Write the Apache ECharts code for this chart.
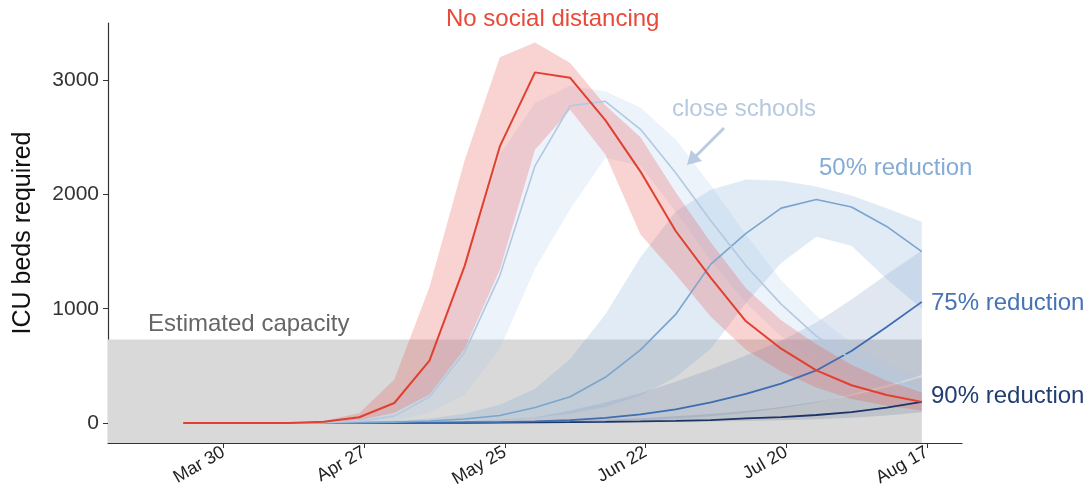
<!DOCTYPE html>
<html>
<head>
<meta charset="utf-8">
<script src="https://cdn.jsdelivr.net/npm/echarts@6/dist/echarts.min.js"></script>
<style>
html,body{margin:0;padding:0;background:#fff;}
#chart{width:1091px;height:496px;}
</style>
</head>
<body>
<div id="chart"></div>
<script>
// x values: days since Mar 2 (weekly model outputs)
const days = [20,27,34,41,48,55,62,69,76,83,90,97,104,111,118,125,132,139,146,153,160,167];
const tickDays = [28,56,84,112,140,168];
const tickLabels = ['Mar 30','Apr 27','May 25','Jun 22','Jul 20','Aug 17'];
const yTicks = [0,1000,2000,3000];
const capacity = 730;

const noDistLine  = [0,0,0,0,10,50,175,545,1375,2420,3068,3020,2650,2200,1680,1270,890,650,460,330,245,185];
const noDistLower = [0,0,0,0,5,25,90,250,650,1340,2390,2740,2350,1650,1300,930,640,450,310,210,150,110];
const noDistUpper = [0,0,0,0,20,85,380,1190,2300,3200,3330,3150,2780,2500,2020,1580,1180,900,690,510,370,270];

const schoolsLine  = [0,0,0,0,3,15,60,230,620,1290,2250,2776,2815,2570,2190,1770,1375,1040,760,560,400,275];
const schoolsLower = [0,0,0,0,1,5,20,90,250,650,1350,1870,2320,2250,1850,1420,1050,760,540,380,270,190];
const schoolsUpper = [0,0,0,0,6,40,160,520,1350,2350,2800,2950,2900,2760,2480,2080,1650,1250,940,700,520,390];

const red50Line  = [0,0,0,0,1,3,8,18,35,65,135,230,400,640,950,1390,1660,1880,1955,1890,1720,1500];
const red50Lower = [0,0,0,0,0,1,3,6,12,22,45,80,140,240,400,650,1050,1400,1630,1550,1260,1000];
const red50Upper = [0,0,0,0,3,8,20,40,80,160,300,560,950,1450,1850,2040,2130,2120,2070,1990,1880,1760];

const red75Line  = [0,0,0,0,0,1,2,3,5,8,14,25,45,75,120,180,255,345,460,630,840,1060];
const red75Lower = [0,0,0,0,0,0,0,1,2,3,5,9,15,25,40,60,90,130,180,250,330,420];
const red75Upper = [0,0,0,0,0,2,5,10,18,30,50,110,180,260,360,470,590,720,880,1080,1300,1510];

const red90Line  = [0,0,0,0,0,0,0,1,2,3,5,7,10,14,19,26,40,52,70,95,135,185];
const red90Lower = [0,0,0,0,0,0,0,0,1,1,2,3,5,7,10,13,18,24,32,45,65,95];
const red90Upper = [0,0,0,0,0,0,1,3,6,10,15,22,30,42,58,78,105,140,185,240,310,400];

function pairs(vals){ return days.map((d,i)=>[d, vals[i]]); }

function band(id, lower, upper, color, z){
  return {
    type:'custom', name:id, silent:true, z:z, clip:true,
    data: days.map((d,i)=>[d, lower[i], upper[i]]),
    encode:{x:0, y:[1,2]},
    renderItem:function(params, api){
      if(params.dataIndex !== 0) return null;
      const pts = [];
      for(let i=0;i<days.length;i++) pts.push(api.coord([days[i], upper[i]]));
      for(let i=days.length-1;i>=0;i--) pts.push(api.coord([days[i], lower[i]]));
      return {type:'polygon', shape:{points:pts}, style:{fill:color, stroke:null}};
    }
  };
}
function line(id, vals, color, width, z){
  return { type:'line', name:id, data:pairs(vals), symbol:'none',
    lineStyle:{color:color, width:width}, silent:true, z:z };
}

const chart = echarts.init(document.getElementById('chart'), null, {renderer:'canvas'});
const FONT = 'Liberation Sans, Arial, Helvetica, sans-serif';

const series = [
  { type:'line', name:'capacity', data:[], silent:true, z:1,
    markArea:{ silent:true, itemStyle:{color:'#d9d9d9'},
      data:[[{xAxis:5, yAxis:-175},{xAxis:days[days.length-1], yAxis:capacity}]] } },
  band('b90', red90Lower, red90Upper, 'rgba(30,55,105,0.14)', 2),
  band('b75', red75Lower, red75Upper, 'rgba(70,110,170,0.17)', 2),
  band('b50', red50Lower, red50Upper, 'rgba(120,165,210,0.22)', 2),
  band('bsc', schoolsLower, schoolsUpper, 'rgba(170,200,232,0.22)', 2),
  band('bnd', noDistLower, noDistUpper, 'rgba(232,90,90,0.27)', 3),
  line('90% reduction', red90Line, '#1d3466', 1.8, 5),
  line('75% reduction', red75Line, '#3e6db0', 1.8, 5),
  line('50% reduction', red50Line, '#79a5cf', 1.6, 5),
  line('close schools', schoolsLine, '#b3c9e1', 1.6, 5),
  line('No social distancing', noDistLine, '#e0402f', 2, 6)
];

chart.setOption({
  animation:false,
  backgroundColor:'#fff',
  grid:{left:108, right:129, top:23, bottom:53, containLabel:false},
  xAxis:{
    type:'value', min:5, max:175,
    axisLine:{show:true, onZero:false, lineStyle:{color:'#333', width:1.2}},
    axisTick:{show:true, length:5, lineStyle:{color:'#333'}, customValues:tickDays},
    axisLabel:{customValues:tickDays, rotate:30, fontSize:18, color:'#222', fontFamily:FONT, margin:8,
      formatter:(v)=>{const i=tickDays.indexOf(v); return i>=0?tickLabels[i]:'';}},
    splitLine:{show:false}
  },
  yAxis:{
    type:'value', min:-175, max:3500,
    name:'ICU beds required', nameLocation:'middle', nameGap:72,
    nameTextStyle:{fontSize:25, color:'#111', fontFamily:FONT},
    axisLine:{show:true, onZero:false, lineStyle:{color:'#333', width:1.2}},
    axisTick:{show:true, length:5, lineStyle:{color:'#333'}, customValues:yTicks},
    axisLabel:{customValues:yTicks, fontSize:21, color:'#333', fontFamily:FONT, margin:9,
      formatter:(v)=>String(v)},
    splitLine:{show:false}
  },
  series:series,
  graphic:[
    {type:'text', left:446, top:7, z:10, style:{text:'No social distancing', fontSize:24, fill:'#e8493a', fontFamily:FONT}},
    {type:'text', left:672, top:97, z:10, style:{text:'close schools', fontSize:24, fill:'#b7c9df', fontFamily:FONT}},
    {type:'text', left:819, top:156, z:10, style:{text:'50% reduction', fontSize:24, fill:'#84acd4', fontFamily:FONT}},
    {type:'text', left:931, top:291, z:10, style:{text:'75% reduction', fontSize:24, fill:'#4673b4', fontFamily:FONT}},
    {type:'text', left:931, top:384, z:10, style:{text:'90% reduction', fontSize:24, fill:'#213d72', fontFamily:FONT}},
    {type:'text', left:148, top:312, z:10, style:{text:'Estimated capacity', fontSize:24, fill:'#666', fontFamily:FONT}},
    {type:'line', z:10, shape:{x1:724, y1:128, x2:695, y2:157}, style:{stroke:'#b9cbe0', lineWidth:3}},
    {type:'polygon', z:10, shape:{points:[[687,165],[691,150],[702,161]]}, style:{fill:'#b9cbe0'}}
  ]
});
</script>
</body>
</html>
